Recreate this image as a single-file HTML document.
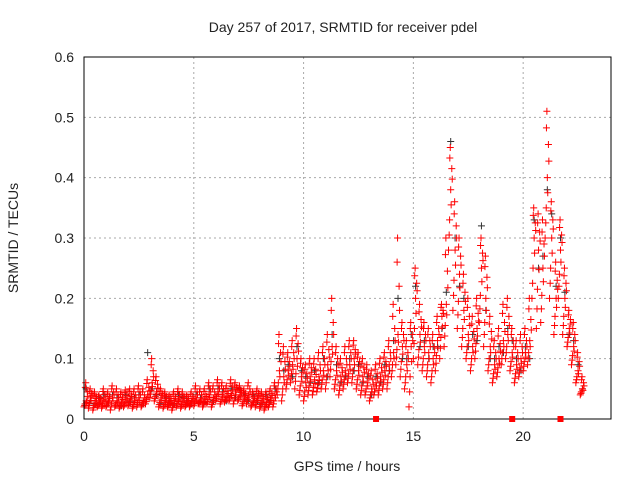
<!DOCTYPE html>
<html><head><meta charset="utf-8"><style>
body{margin:0;background:#fff}
text{font-family:"Liberation Sans",sans-serif;font-size:14px;fill:#222}
</style></head><body>
<svg id="c" width="640" height="480">
<text x="343" y="32" text-anchor="middle">Day 257 of 2017, SRMTID for receiver pdel</text>
<text x="347" y="471" text-anchor="middle">GPS time / hours</text>
<text transform="translate(18,238) rotate(-90)" text-anchor="middle">SRMTID / TECUs</text>
<g id="grid"></g><g id="blk"></g><g id="red"></g>
<rect x="84" y="57" width="527" height="362" fill="none" stroke="#000"/>
</svg>
<script>
const xTicks=[0,5,10,15,20];
const yTicks=[0,0.1,0.2,0.3,0.4,0.5,0.6];
const yLabels=["0","0.1","0.2","0.3","0.4","0.5","0.6"];
const hours=[0,0.2,0.4,0.6,0.8,1,1.2,1.4,1.6,1.8,2,2.2,2.4,2.6,2.8,3,3.2,3.4,3.6,3.8,4,4.2,4.4,4.6,4.8,5,5.2,5.4,5.6,5.8,6,6.2,6.4,6.6,6.8,7,7.2,7.4,7.6,7.8,8,8.2,8.4,
8.6,8.8,9,9.2,9.4,9.6,9.8,10,10.2,10.4,10.6,10.8,11,11.2,11.4,11.6,11.8,12,12.2,12.4,12.6,12.8,13,13.2,13.4,13.6,13.8,14,14.2,14.4,14.6,14.8,15,15.2,15.4,15.6,15.8,16,16.2,16.4,16.6,16.8,17,17.2,17.4,17.6,17.8,18,18.2,18.4,18.6,18.8,19,19.2,19.4,19.6,19.8,20,20.2,20.4,20.6,20.8,21,21.2,21.4,21.6,21.8,22,22.2,22.4,22.6];
const redMid=[.03,.035,.03,.028,.032,.03,.035,.03,.028,.03,.033,.03,.035,.03,.04,.06,.045,.035,.03,.028,.03,.032,.03,.028,.03,.035,.03,.033,.04,.035,.045,.04,.038,.042,.045,.04,.035,.04,.03,.035,.03,.028,.035,
.04,.08,.07,.08,.09,.1,.07,.06,.07,.065,.07,.08,.09,.12,.08,.07,.08,.09,.1,.08,.07,.06,.05,.06,.07,.08,.09,.11,.14,.12,.09,.12,.2,.14,.12,.11,.1,.13,.17,.19,.38,.28,.24,.18,.14,.12,.15,.25,.2,.12,.09,.1,.13,.14,.11,.09,.1,.11,.13,.3,.28,.25,.4,.3,.2,.28,.2,.15,.12,.08,.05];
const redLow=[.02,.018,.015,.02,.018,.02,.015,.02,.018,.02,.022,.018,.02,.02,.025,.035,.03,.02,.018,.02,.015,.02,.018,.02,.02,.022,.025,.02,.025,.02,.03,.025,.028,.03,.025,.03,.022,.025,.02,.02,.018,.015,.02,
.02,.04,.03,.05,.06,.05,.04,.03,.04,.04,.045,.05,.05,.07,.05,.04,.05,.06,.06,.05,.04,.04,.03,.04,.04,.05,.05,.07,.09,.07,.05,.02,.1,.09,.08,.07,.06,.08,.1,.12,.28,.18,.15,.12,.1,.08,.1,.16,.12,.08,.06,.07,.09,.1,.08,.06,.07,.08,.09,.2,.15,.16,.3,.2,.14,.2,.14,.12,.09,.06,.04];
const redHigh=[.06,.05,.045,.04,.05,.045,.055,.05,.045,.048,.05,.05,.055,.05,.065,.1,.07,.05,.045,.04,.045,.05,.045,.04,.045,.055,.05,.05,.06,.055,.065,.06,.055,.065,.06,.055,.05,.06,.045,.05,.045,.045,.05,
.06,.14,.12,.11,.13,.15,.1,.09,.1,.1,.11,.12,.14,.2,.12,.1,.12,.13,.13,.11,.1,.09,.08,.09,.1,.11,.13,.19,.3,.16,.13,.16,.25,.19,.16,.15,.14,.17,.19,.3,.45,.36,.3,.24,.2,.17,.2,.3,.27,.17,.13,.15,.19,.2,.15,.13,.14,.15,.2,.35,.34,.33,.51,.36,.26,.33,.25,.18,.16,.11,.07];
const blackVal=[.05,.03,.025,.035,.04,.025,.04,.035,.022,.04,.028,.035,.04,.025,.11,.05,.04,.025,.035,.03,.025,.04,.035,.03,.025,.04,.035,.028,.05,.03,.05,.045,.03,.05,.035,.05,.04,.03,.04,.03,.025,.04,.03,
.05,.1,.08,.09,.07,.12,.08,.07,.06,.08,.06,.1,.07,.14,.09,.06,.07,.1,.08,.09,.06,.07,.04,.07,.06,.09,.08,.13,.2,.1,.1,.14,.22,.12,.13,.1,.12,.12,.15,.21,.46,.3,.22,.2,.12,.14,.13,.32,.18,.1,.1,.12,.11,.15,.13,.1,.08,.12,.1,.33,.25,.27,.38,.34,.22,.3,.21,.14,.13,.09,.05];
const X0=84,X1=611,Y0=419,Y1=57;
function sx(h){return X0+h*(X1-X0)/24}
function sy(v){return Y0-v*(Y0-Y1)/0.6}
const NS="http://www.w3.org/2000/svg";
function mk(t,a,p){const e=document.createElementNS(NS,t);for(const k in a)e.setAttribute(k,a[k]);p.appendChild(e);return e}
const svg=document.getElementById('c'),grid=document.getElementById('grid');
xTicks.forEach(t=>{
 const x=sx(t);
 if(t>0){const g=mk('line',{x1:x,x2:x,y1:Y1,y2:Y0,stroke:'#aaa','stroke-dasharray':'2,3'},grid);
 
 }
 const tl=mk('text',{x:x,y:Y0+22,'text-anchor':'middle'},grid);tl.textContent=t;
 
 
});
yTicks.forEach((t,i)=>{
 const y=sy(t);
 if(t>0&&t<0.6){const g=mk('line',{x1:X0,x2:X1,y1:y,y2:y,stroke:'#aaa','stroke-dasharray':'2,3'},grid);
 
 }
 const tl=mk('text',{x:X0-10,y:y+5,'text-anchor':'end'},grid);tl.textContent=yLabels[i];
 
 
});
function plus(g,h,v,col){
 const x=sx(h),y=sy(v);
 const p=mk('path',{d:`M${x-3.5},${y}h7M${x},${y-3.5}v7`,stroke:col,'stroke-width':1,fill:'none'},g);
 
 
}
const blk=document.getElementById('blk'),red=document.getElementById('red');
hours.forEach((h,i)=>plus(blk,h+0.1,blackVal[i],'#333'));
const fr=[0,0.25,0.5,0.75,1];
const off=[0,0.05,0.1,0.15,0.08,0.03,0.12,0.17,0.06];
hours.forEach((h,i)=>{
 const lo=redLow[i],mi=redMid[i],hi=redHigh[i];
 const vals=[lo,(lo+mi)/2,mi,(mi+hi)/2,hi,(3*lo+mi)/4,(lo+3*mi)/4,(3*mi+hi)/4,(mi+3*hi)/4];
 vals.forEach((v,k)=>plus(red,h+off[k],v,'#f00'));
});
const gaps=[13.3,19.5,21.7];
gaps.forEach(h=>{const r=mk('rect',{x:sx(h)-3,y:Y0-3,width:6,height:6,fill:'#f00'},svg);
 
 });
</script>
</body></html>
